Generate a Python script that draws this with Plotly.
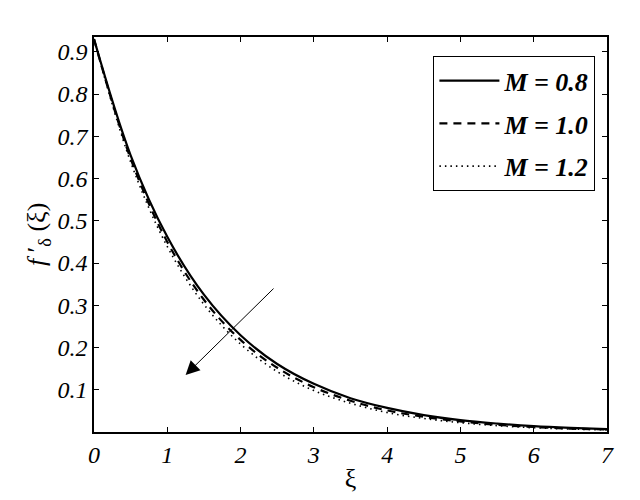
import plotly.graph_objects as go

# values
xi = [0, 0.5, 1, 1.5, 2, 2.5, 3, 3.5, 4, 4.5, 5, 5.5, 6, 6.5, 7]
f_m08 = [0.930, 0.655, 0.462, 0.325, 0.229, 0.161, 0.114, 0.080, 0.057, 0.040, 0.028, 0.020, 0.014, 0.010, 0.007]
f_m10 = [0.930, 0.647, 0.450, 0.313, 0.218, 0.152, 0.106, 0.074, 0.051, 0.036, 0.025, 0.017, 0.012, 0.008, 0.006]
f_m12 = [0.930, 0.639, 0.439, 0.302, 0.208, 0.143, 0.098, 0.068, 0.046, 0.032, 0.022, 0.015, 0.010, 0.007, 0.005]
names = ["M = 0.8", "M = 1.0", "M = 1.2"]
x_ticks = [0, 1, 2, 3, 4, 5, 6, 7]
y_ticks = [0.1, 0.2, 0.3, 0.4, 0.5, 0.6, 0.7, 0.8, 0.9]

serif = "Liberation Serif"

fig = go.Figure()
styles = [dict(width=2.2, dash="solid"),
          dict(width=2.2, dash="8px,6px"),
          dict(width=1.6, dash="1.5px,4px")]
for ys, name, st in zip([f_m08, f_m10, f_m12], names, styles):
    fig.add_trace(go.Scatter(x=xi, y=ys, mode="lines", name=name, legendgroup=name,
                             line=dict(color="black", shape="spline", **st)))

# arrow showing increasing M
fig.add_annotation(x=1.25, y=0.135, ax=2.47, ay=0.343, xref="x", yref="y",
                   axref="x", ayref="y", text="", showarrow=True,
                   arrowhead=2, arrowsize=2.8, arrowwidth=1, arrowcolor="black")

# y axis title
fig.add_annotation(text="<i>f</i> ′<sub>δ</sub> (ξ)", xref="paper", yref="paper",
                   x=-0.145, y=0.5, showarrow=False, textangle=-90,
                   font=dict(family=serif, size=26, color="black"))

axis_common = dict(showline=True, linecolor="black", linewidth=1.5, mirror="ticks",
                   ticks="inside", ticklen=5, tickcolor="black", showgrid=False,
                   zeroline=False,
                   tickfont=dict(family=serif, size=24, color="black", style="italic"))

fig.update_xaxes(range=[0, 7], tickvals=x_ticks,
                 title=dict(text="ξ", font=dict(family=serif, size=26, color="black"),
                            standoff=2),
                 **axis_common)
fig.update_yaxes(range=[0, 0.935], tickvals=y_ticks,
                 ticktext=[f"{v:.1f}" for v in y_ticks], **axis_common)

fig.update_layout(
    width=640, height=500,
    margin=dict(l=94, r=33, t=37, b=61),
    plot_bgcolor="white", paper_bgcolor="white",
    legend=dict(x=0.977, y=0.952, xanchor="right", yanchor="top",
                bordercolor="black", borderwidth=1.2, bgcolor="white",
                font=dict(family=serif, size=26, color="black",
                          style="italic", weight="bold"),
                tracegroupgap=6, itemwidth=60),
)

# drop the page's default body margin so the figure sits at 0,0
fig.write_html("out.html", config={"displayModeBar": False},
               post_script="document.body.style.margin='0';")
